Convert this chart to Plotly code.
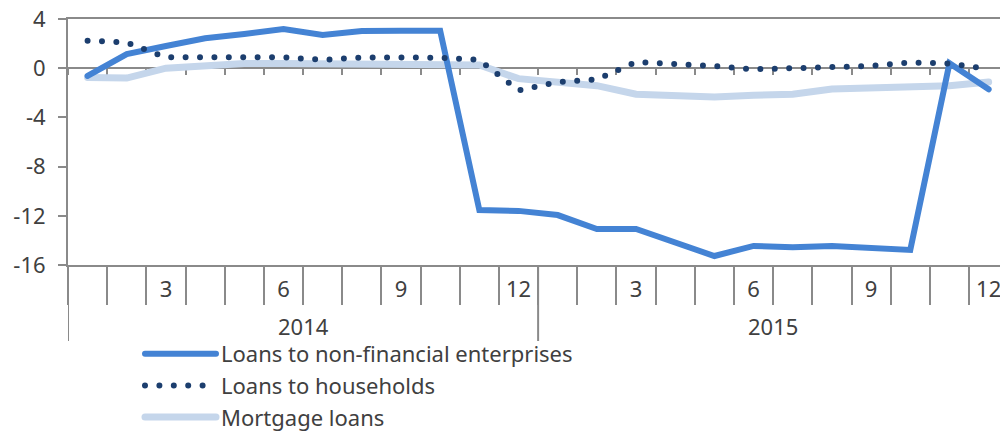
import plotly.graph_objects as go

# Monthly categories, Jan 2014 - Dec 2015
months = [f"{y}-{m:02d}" for y in (2014, 2015) for m in range(1, 13)]
month_labels = ["", "", "3", "", "", "6", "", "", "9", "", "", "12",
                "", "", "3", "", "", "6", "", "", "9", "", "", "12"]
years = ["2014", "2015"]

# Annual growth rates, %
enterprises = [-0.63, 1.15, 1.8, 2.43, 2.78, 3.19, 2.7, 3.02, 3.04, 3.05,
               -11.53, -11.6, -11.94, -13.07, -13.07, -14.15, -15.27, -14.45,
               -14.56, -14.45, -14.6, -14.78, 0.4, -1.72]
households = [2.24, 2.09, 0.88, 0.89, 0.89, 0.89, 0.68, 0.87, 0.87, 0.85,
              0.67, -1.81, -1.12, -0.92, 0.5, 0.4, 0.18, -0.09,
              0.04, 0.07, 0.18, 0.46, 0.38, -0.08]
mortgage = [-0.75, -0.8, 0.0, 0.26, 0.38, 0.38, 0.36, 0.34, 0.34, 0.3,
            0.26, -0.85, -1.2, -1.42, -2.12, -2.3, -2.35, -2.2,
            -2.12, -1.7, -1.58, -1.5, -1.42, -1.12]

y_ticks = [4, 0, -4, -8, -12, -16]
y_tick_labels = ["4", "0", "-4", "-8", "-12", "-16"]

FONT = "Noto Sans"
TEXT = "#404040"
AXIS = "#8a8a8a"
C_ENT = "#4483d4"
C_HH = "#1c3e6e"
C_MORT = "#c5d6eb"

fig = go.Figure()
fig.add_trace(go.Scatter(x=months, y=mortgage, name="Mortgage loans",
                         mode="lines", line=dict(color=C_MORT, width=7),
                         legendrank=3))
fig.add_trace(go.Scatter(x=months, y=enterprises, name="Loans to non-financial enterprises",
                         mode="lines", line=dict(color=C_ENT, width=6),
                         legendrank=1))
fig.add_trace(go.Scatter(x=months, y=households, name="Loans to households",
                         mode="lines", line=dict(color=C_HH, width=6, dash="0px,14.4px"),
                         legendrank=2))
# placeholder so the labelled bottom axis is laid out
fig.add_trace(go.Scatter(x=months, y=[None] * len(months), xaxis="x2",
                         showlegend=False, hoverinfo="skip"))

x_range = [-0.5, 23.29]

fig.update_layout(
    width=1000, height=432,
    margin=dict(l=68, r=0, t=19, b=167, autoexpand=False),
    paper_bgcolor="white", plot_bgcolor="white",
    font=dict(family=FONT, size=22, color=TEXT),
    showlegend=True,
    legend=dict(xref="container", yref="container",
                x=0.14, xanchor="left", y=0.2292, yanchor="top",
                font=dict(family=FONT, size=22, color=TEXT),
                itemwidth=71, tracegroupgap=0, bgcolor="rgba(0,0,0,0)"),
    xaxis=dict(type="category", categoryarray=months, range=x_range,
               anchor="free", position=0.8,
               showline=True, linecolor=AXIS, linewidth=2,
               ticks="outside", ticklen=6, tickwidth=2, tickcolor=AXIS,
               tickson="boundaries", tickmode="array", tickvals=months,
               showticklabels=False, showgrid=False, zeroline=False,
               layer="below traces"),
    xaxis2=dict(type="category", categoryarray=months, range=x_range,
                overlaying="x", anchor="y", side="bottom",
                showline=True, linecolor=AXIS, linewidth=2, mirror=True,
                ticks="outside", ticklen=38, tickwidth=2, tickcolor=AXIS,
                tickson="boundaries", tickmode="array", tickvals=months,
                ticktext=month_labels, ticklabelstandoff=4,
                tickfont=dict(family=FONT, size=22, color=TEXT),
                showgrid=False, zeroline=False),
    yaxis=dict(range=[-16, 4], tickmode="array", tickvals=y_ticks,
               ticktext=y_tick_labels, showline=True, linecolor=AXIS,
               linewidth=2, ticks="outside", ticklen=8, tickwidth=2,
               tickcolor=AXIS, showgrid=False, zeroline=False,
               tickfont=dict(family=FONT, size=22, color=TEXT),
               ticklabelstandoff=8),
)

# year group labels and separators below the month axis
for i, yr in enumerate(years):
    fig.add_annotation(x=5.5 + 12 * i, y=-0.248, xref="x", yref="paper",
                       yanchor="middle", text=yr, showarrow=False,
                       font=dict(family=FONT, size=22, color=TEXT))
for b in (-0.5, 11.5, 23.5):
    fig.add_shape(type="line", x0=b, x1=b, y0=0, y1=-0.309, xref="x", yref="paper",
                  line=dict(color=AXIS, width=2))

round_caps = ("var s=document.createElement('style');"
              "s.textContent='path.js-line{stroke-linecap:round;}';"
              "document.head.appendChild(s);")

fig.write_html("out.html", post_script=round_caps)
